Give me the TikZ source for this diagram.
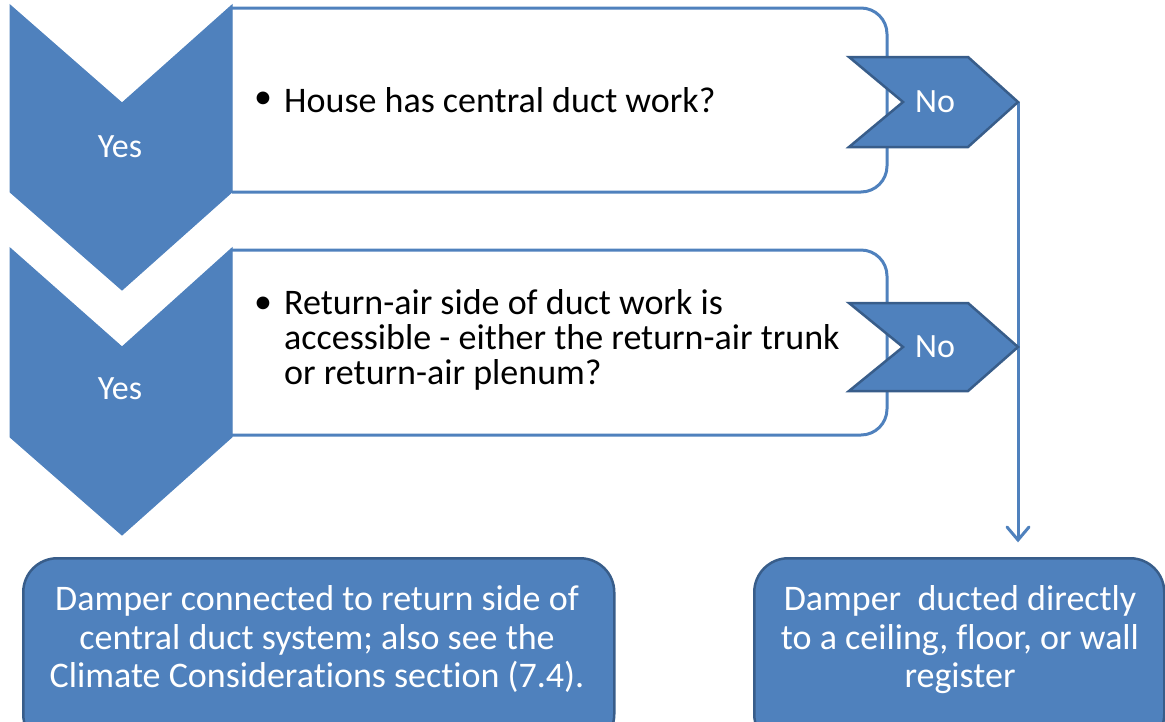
\documentclass[tikz,border=0pt]{standalone}
\usepackage{fontspec}
\setmainfont{Carlito}[Ligatures={NoCommon}]
\definecolor{ofblue}{HTML}{4F81BD}
\definecolor{ofdark}{HTML}{385D8A}
\begin{document}
\begin{tikzpicture}[x=1pt,y=-1pt,
  chev/.style={fill=ofblue,draw=ofblue,line width=1pt},
  nochev/.style={fill=ofblue,draw=ofdark,line width=2.5pt,line join=miter},
  qbox/.style={fill=white,draw=ofblue,line width=3pt},
  resbox/.style={fill=ofblue,draw=ofdark,line width=2.5pt,rounded corners=34pt},
  wlabel/.style={text=white,font=\fontsize{34}{35}\selectfont,inner sep=0pt},
  qtext/.style={text=black,font=\fontsize{36}{35}\selectfont,inner sep=0pt,anchor=west,align=left},
  bullet/.style={text=black,font=\fontsize{36}{35}\selectfont,inner sep=0pt},
  rtext/.style={text=white,font=\fontsize{36}{38.5}\selectfont,inner sep=0pt,align=center},
  conn/.style={draw=ofblue,line width=3pt},
]
\useasboundingbox (0,0) rectangle (1165,721);
% question boxes
\path[qbox] (232,8) [rounded corners=26pt] -- (887,8) -- (887,192) [sharp corners] -- (232,192);
\path[qbox] (232,250) [rounded corners=26pt] -- (887,250) -- (887,435) [sharp corners] -- (232,435);
% yes chevrons
\path[chev] (10,5) -- (122,103) -- (232,5) -- (232,192) -- (122,290) -- (10,192) -- cycle;
\path[chev] (10,248) -- (122,347) -- (232,248) -- (232,437) -- (122,535) -- (10,437) -- cycle;
\node[wlabel] (yes1) at (120,147) {Yes};
\node[wlabel] (yes2) at (120,389) {Yes};
% question texts
\node[bullet] (b1) at (263,100) {\textbullet};
\node[qtext] (q1) at (284,100) {House has central duct work?};
\node[bullet] (b2) at (263,305) {\textbullet};
\node[qtext] (q2) at (284,340) {Return-air side of duct work is\\accessible - either the return-air trunk\\or return-air plenum?};
% result boxes
\node[resbox,minimum width=591pt,minimum height=190pt,anchor=north west] (r1) at (22,557) {};
\node[resbox,minimum width=410pt,minimum height=190pt,anchor=north west] (r2) at (753,557) {};
\node[rtext] (t1) at (317,639) {Damper connected to return side of\\central duct system; also see the\\Climate Considerations section (7.4).};
\node[rtext] (t2) at (960,640) {Damper\ \ ducted directly\\to a ceiling, floor, or wall\\register};
% connector
\coordinate (tip1) at (1018,102);
\coordinate (tip2) at (1018,347);
\coordinate (arrowend) at (1018,540);
\draw[conn] (tip1) -- (arrowend);
\draw[conn,line cap=round] (1007,527) -- (arrowend) -- (1029,527);
% no chevrons
\path[nochev] (849,57) -- (968,57) -- (tip1) -- (968,147) -- (849,147) -- (903,102) -- cycle;
\path[nochev] (849,303) -- (968,303) -- (tip2) -- (968,391) -- (849,391) -- (903,347) -- cycle;
\node[wlabel] (no1) at (935,102) {No};
\node[wlabel] (no2) at (935,347) {No};
\end{tikzpicture}
\end{document}
